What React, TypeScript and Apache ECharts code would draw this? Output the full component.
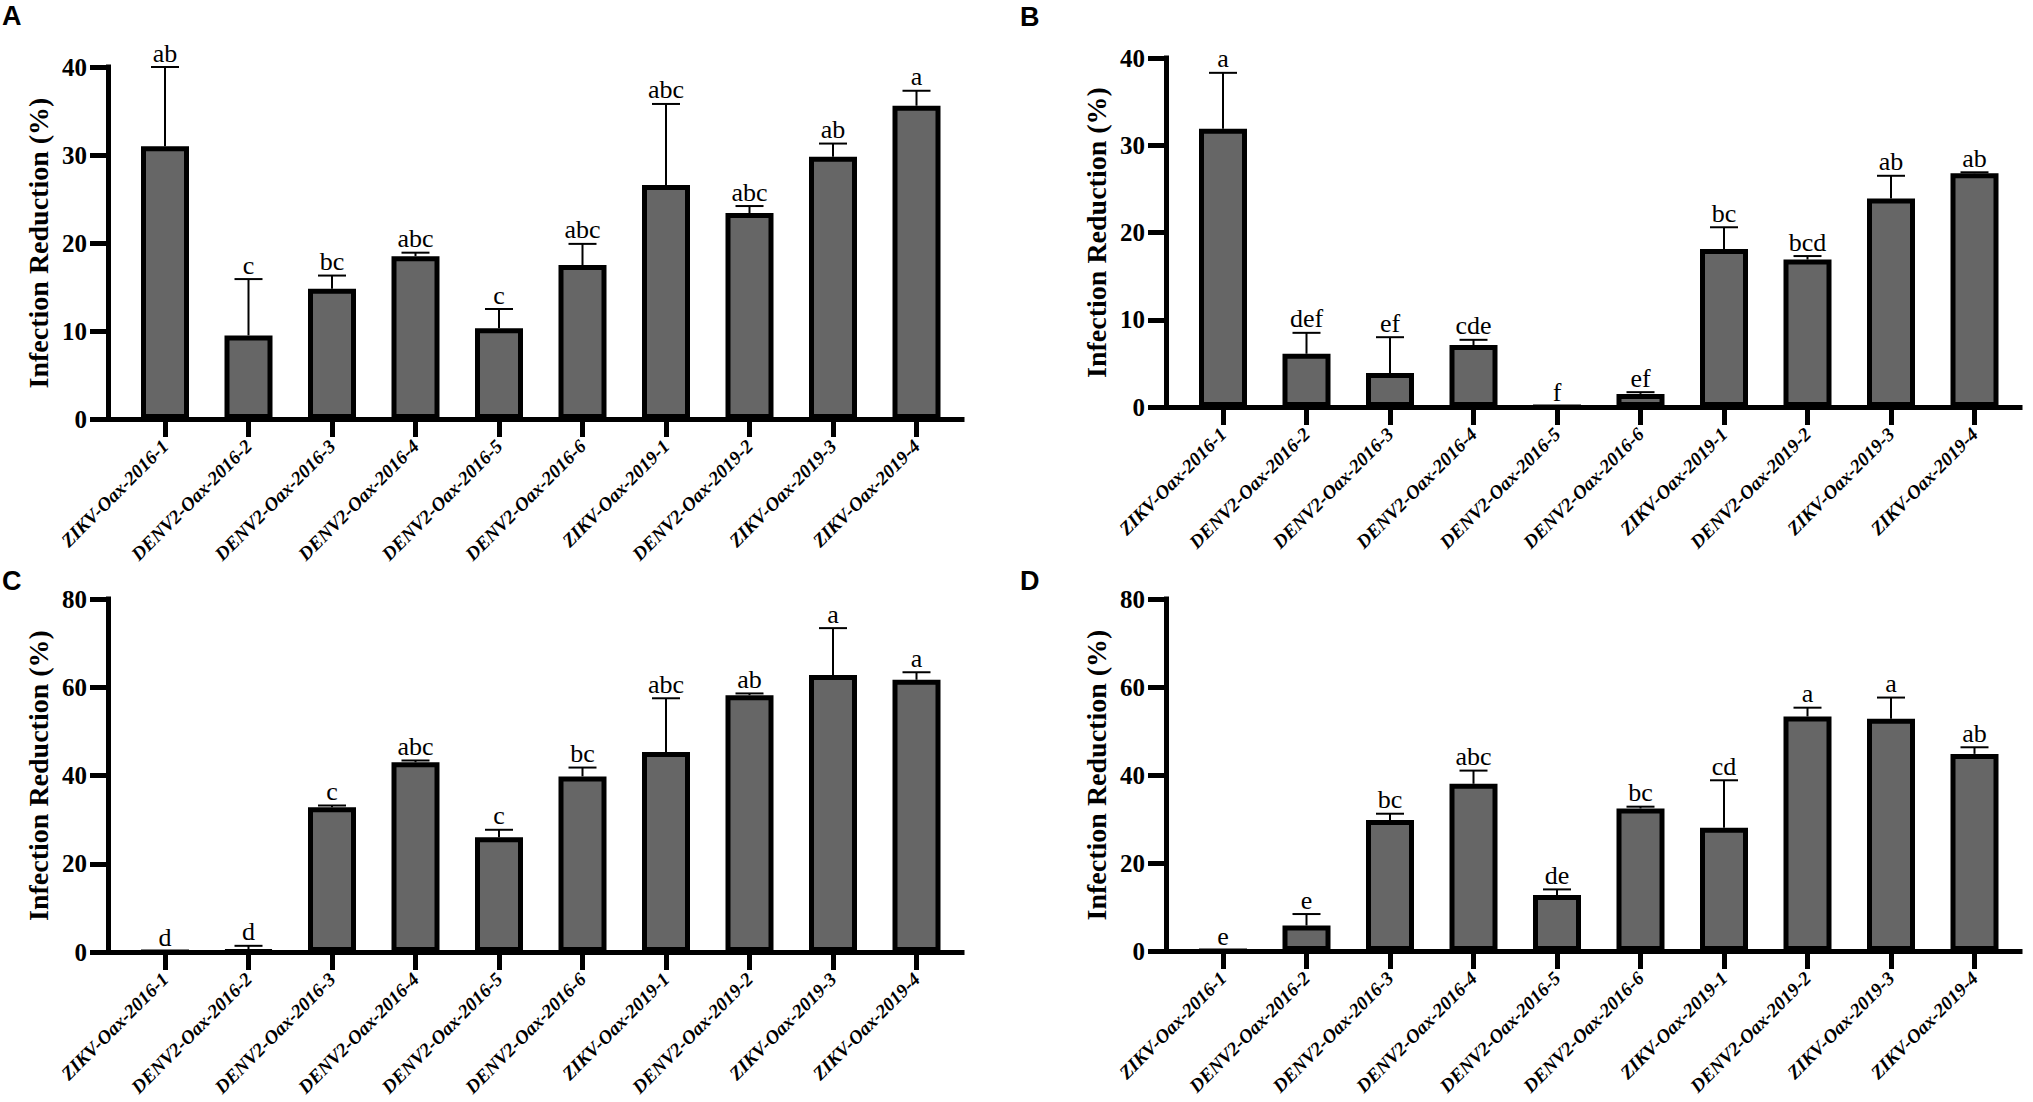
import React, { useEffect, useRef } from "react";
import * as echarts from "echarts";

const categories = [
  "ZIKV-Oax-2016-1",
  "DENV2-Oax-2016-2",
  "DENV2-Oax-2016-3",
  "DENV2-Oax-2016-4",
  "DENV2-Oax-2016-5",
  "DENV2-Oax-2016-6",
  "ZIKV-Oax-2019-1",
  "DENV2-Oax-2019-2",
  "ZIKV-Oax-2019-3",
  "ZIKV-Oax-2019-4",
];

// Panel A
const aMeans = [31, 9.5, 14.8, 18.5, 10.3, 17.5, 26.6, 23.4, 29.8, 35.6];
const aSd = [9, 6.4, 1.5, 0.4, 2.2, 2.4, 9.2, 0.8, 1.5, 1.7];
const aLetters = ["ab", "c", "bc", "abc", "c", "abc", "abc", "abc", "ab", "a"];

// Panel B
const bMeans = [31.9, 6.1, 3.9, 7.1, 0, 1.5, 18.1, 16.9, 23.9, 26.8];
const bSd = [6.4, 2.4, 4.1, 0.6, 0, 0.2, 2.5, 0.4, 2.6, 0.1];
const bLetters = ["a", "def", "ef", "cde", "f", "ef", "bc", "bcd", "ab", "ab"];

// Panel C
const cMeans = [0, 0.2, 32.8, 43, 26, 39.8, 45.3, 58.2, 62.8, 61.7];
const cSd = [0, 1.2, 0.4, 0.4, 1.7, 2, 12.2, 0.4, 10.6, 1.7];
const cLetters = ["d", "d", "c", "abc", "c", "bc", "abc", "ab", "a", "a"];

// Panel D
const dMeans = [0, 5.8, 29.8, 38, 12.7, 32.4, 28, 53.3, 52.8, 44.8];
const dSd = [0, 2.6, 1.4, 3, 1.3, 0.4, 10.8, 2, 4.8, 1.5];
const dLetters = ["e", "e", "bc", "abc", "de", "bc", "cd", "a", "a", "ab"];

const yMaxTop = 40;
const yStepTop = 10;
const yMaxBottom = 80;
const yStepBottom = 20;

const yTitle = "Infection Reduction (%)";

const W = 2033;
const H = 1102;
const BAND = 83.5;
const FIRST = 57;

const SERIF = '"Liberation Serif", "Times New Roman", serif';
const SANS = '"Liberation Sans", Arial, sans-serif';

const panelData = [
  { name: "A", means: aMeans, sd: aSd, letters: aLetters, max: yMaxTop, step: yStepTop },
  { name: "B", means: bMeans, sd: bSd, letters: bLetters, max: yMaxTop, step: yStepTop },
  { name: "C", means: cMeans, sd: cSd, letters: cLetters, max: yMaxBottom, step: yStepBottom },
  { name: "D", means: dMeans, sd: dSd, letters: dLetters, max: yMaxBottom, step: yStepBottom },
];

const layouts = [
  { axisX: 108, top: 67, height: 352, end: 962, labelX: 2, labelY: 2 },
  { axisX: 1166, top: 58, height: 349, end: 2020, labelX: 1020, labelY: 3 },
  { axisX: 108, top: 599, height: 353, end: 962, labelX: 2, labelY: 567 },
  { axisX: 1166, top: 599, height: 352, end: 2020, labelX: 1020, labelY: 567 },
];

function buildOption() {
  const grid: any[] = [];
  const xAxis: any[] = [];
  const yAxis: any[] = [];
  const series: any[] = [];
  const title: any[] = [];

  panelData.forEach((p, i) => {
    const L = layouts[i];
    const fi = i * 2;
    const bi = i * 2 + 1;
    grid.push({
      left: L.axisX,
      top: L.top,
      width: L.end - L.axisX,
      height: L.height,
      containLabel: false,
      outerBoundsMode: "none",
    });
    grid.push({
      left: L.axisX + FIRST - BAND / 2,
      top: L.top,
      width: BAND * categories.length,
      height: L.height,
      containLabel: false,
      outerBoundsMode: "none",
    });
    xAxis.push({
      gridIndex: fi,
      type: "value",
      min: 0,
      max: 1,
      axisLine: { show: true, onZero: false, lineStyle: { color: "#000", width: 5, cap: "square" } },
      axisTick: { show: false },
      axisLabel: { show: false },
      splitLine: { show: false },
    });
    xAxis.push({
      gridIndex: bi,
      type: "category",
      data: categories,
      boundaryGap: true,
      axisLine: { show: false },
      axisTick: { show: true, alignWithLabel: true, length: 18, lineStyle: { color: "#000", width: 5 } },
      axisLabel: {
        interval: 0,
        rotate: 45,
        margin: 24,
        color: "#000",
        fontFamily: SERIF,
        fontWeight: "bold",
        fontStyle: "italic",
        fontSize: 19,
      },
      splitLine: { show: false },
    });
    yAxis.push({
      gridIndex: fi,
      type: "value",
      min: 0,
      max: p.max,
      interval: p.step,
      name: yTitle,
      nameLocation: "middle",
      nameGap: 56,
      nameTextStyle: { color: "#000", fontFamily: SERIF, fontWeight: "bold", fontSize: 28 },
      axisLine: { show: true, lineStyle: { color: "#000", width: 5, cap: "square" } },
      axisTick: { show: true, inside: false, length: 18, lineStyle: { color: "#000", width: 5 } },
      axisLabel: { color: "#000", fontFamily: SERIF, fontWeight: "bold", fontSize: 25, margin: 21 },
      splitLine: { show: false },
    });
    yAxis.push({
      gridIndex: bi,
      type: "value",
      min: 0,
      max: p.max,
      show: false,
      splitLine: { show: false },
    });
    series.push({
      type: "bar",
      xAxisIndex: bi,
      yAxisIndex: bi,
      data: p.means,
      barWidth: 48,
      itemStyle: { color: "#666666", borderColor: "#000", borderWidth: 5 },
      z: 2,
    });
    const letters = p.letters;
    series.push({
      type: "custom",
      xAxisIndex: bi,
      yAxisIndex: bi,
      clip: false,
      z: 3,
      data: p.means.map((m, k) => [k, m, m + p.sd[k]]),
      renderItem: (params: any, api: any) => {
        const idx = api.value(0);
        const mean = api.value(1);
        const up = api.value(2);
        const base = api.coord([idx, mean]);
        const top = api.coord([idx, up]);
        const children: any[] = [];
        const hasErr = up > mean;
        if (hasErr) {
          children.push({
            type: "line",
            shape: { x1: base[0], y1: base[1], x2: top[0], y2: top[1] },
            style: { stroke: "#000", lineWidth: 2 },
          });
          children.push({
            type: "line",
            shape: { x1: top[0] - 14, y1: top[1], x2: top[0] + 14, y2: top[1] },
            style: { stroke: "#000", lineWidth: 2 },
          });
        }
        const ty = hasErr ? top[1] - 1 : base[1] - 2;
        children.push({
          type: "text",
          style: {
            text: letters[params.dataIndex],
            x: top[0],
            y: ty,
            align: "center",
            verticalAlign: "bottom",
            fontFamily: SERIF,
            fontSize: 26,
            fill: "#000",
          },
        });
        return { type: "group", children };
      },
    });
    title.push({
      text: p.name,
      left: L.labelX,
      top: L.labelY,
      padding: 0,
      textStyle: { color: "#000", fontFamily: SANS, fontWeight: "bold", fontSize: 27 },
    });
  });

  return {
    animation: false,
    backgroundColor: "#ffffff",
    title,
    grid,
    xAxis,
    yAxis,
    series,
  };
}

export default function App() {
  const ref = useRef<HTMLDivElement>(null);
  useEffect(() => {
    if (!ref.current) return;
    const chart = echarts.init(ref.current, null, { renderer: "svg", width: W, height: H });
    chart.setOption(buildOption() as any);
    return () => {
      chart.dispose();
    };
  }, []);
  return (
    <div
      ref={ref}
      style={{ position: "absolute", left: 0, top: 0, width: W, height: H, background: "#fff" }}
    />
  );
}
